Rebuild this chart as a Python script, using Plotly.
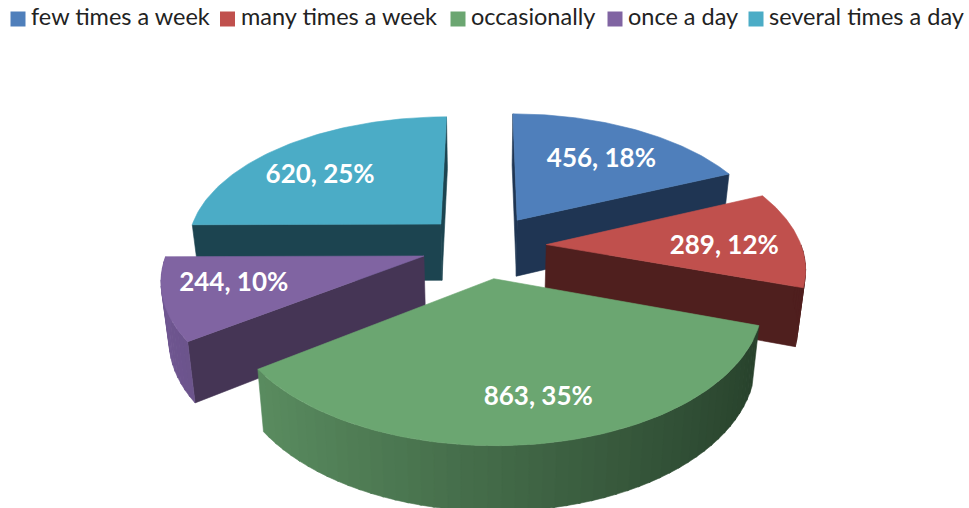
import math
import plotly.graph_objects as go

categories = ["few times a week", "many times a week", "occasionally", "once a day", "several times a day"]
values = [456, 289, 863, 244, 620]
percents = [18, 12, 35, 10, 25]
top_colors = ["#4f7fbb", "#c0504d", "#6ba671", "#8064a2", "#4bacc6"]
wall_colors = ["#1f3553", "#4f1f1e", "#2b4630", "#453555", "#1c4450"]
side_light = ["#3b5f8c", "#8f3b39", "#5f9465", "#705792", "#387f93"]
side_dark = ["#1f3553", "#4f1f1e", "#263f2a", "#3d2f4d", "#1c4450"]

WINDOW_W, WINDOW_H = 969, 508

# Projection constants of the tilted, exploded pie
CX, CY = 484, 246
A, B, K, H, EXPLODE = 255, 130, 0.154, 56, 0.245
BOTTOM_SCALE = 0.975
FONT = "Lato"

# Layout of the labels and the legend row (window pixels)
label_r = [0.60, 0.74, 0.62, 0.72, 0.58]
label_dx = [11, -9, 16, -5, -27]
label_dy = [-3, 7, 24, -2, 0]
legend_square_x = [18, 227.5, 458, 615, 756]
legend_text_x = [31, 241, 471, 628, 769]
LEGEND_SQUARE_Y = 19
LEGEND_TEXT_Y = 19


def project(wx, wy, bottom=False):
    s = 1 / (1 + K * wy)
    x = A * wx * s
    y = -B * wy * s
    if bottom:
        return CX + x * BOTTOM_SCALE, CY + y * BOTTOM_SCALE + H * s * 1.02
    return CX + x, CY + y


def hexmix(a, b, t):
    ca = [int(a[i:i + 2], 16) for i in (1, 3, 5)]
    cb = [int(b[i:i + 2], 16) for i in (1, 3, 5)]
    return "#" + "".join(f"{round(p + (q - p) * t):02x}" for p, q in zip(ca, cb))


total = sum(values)
spans = []
start = 0.0
for v in values:
    end = start + v / total * 2 * math.pi
    spans.append((start, end))
    start = end


def world(idx, r, th):
    a, b = spans[idx]
    mid = (a + b) / 2
    return r * math.sin(th) + EXPLODE * math.sin(mid), r * math.cos(th) + EXPLODE * math.cos(mid)


def quad(fig, pts, color):
    xs, ys = zip(*pts)
    fig.add_trace(go.Scatter(x=list(xs) + [xs[0]], y=list(ys) + [ys[0]], mode="lines", fill="toself",
                             fillcolor=color, line=dict(color=color, width=0.6),
                             hoverinfo="skip", showlegend=False))


fig = go.Figure()
order = [0, 4, 3, 1, 2]
for i in order:
    a, b = spans[i]
    # radial walls, painted when they face the viewer
    for th, sign in ((a, 1), (b, -1)):
        wx, wy = world(i, 1, th)
        ox, oy = world(i, 0, th)
        if sign * math.sin(th) <= 1e-6:
            quad(fig, [project(ox, oy), project(wx, wy), project(wx, wy, True), project(ox, oy, True)], wall_colors[i])
    # outer rim, shaded by its horizontal position
    n = max(8, int((b - a) / math.radians(2.5)))
    for j in range(n):
        t0 = a + (b - a) * j / n
        t1 = a + (b - a) * (j + 1.15) / n
        if math.cos((t0 + t1) / 2) > 0:
            continue
        w0 = world(i, 1, t0)
        w1 = world(i, 1, min(t1, b))
        shade = (math.sin((t0 + t1) / 2) + 1) / 2
        quad(fig, [project(*w0), project(*w1), project(*w1, True), project(*w0, True)],
             hexmix(side_light[i], side_dark[i], shade))

for i in order:
    a, b = spans[i]
    n = 80
    pts = [project(*world(i, 0, a))]
    pts += [project(*world(i, 1, a + (b - a) * j / n)) for j in range(n + 1)]
    quad(fig, pts, top_colors[i])

# Data labels
lx, ly, lt = [], [], []
for i, (v, p) in enumerate(zip(values, percents)):
    a, b = spans[i]
    x, y = project(*world(i, label_r[i], (a + b) / 2))
    lx.append(x + label_dx[i])
    ly.append(y + label_dy[i])
    lt.append(f"{v}, {p}%")
fig.add_trace(go.Scatter(x=lx, y=ly, text=lt, mode="text", textposition="middle center",
                         textfont=dict(family=FONT, size=26, color="white", weight="bold"),
                         hoverinfo="skip", showlegend=False))

# Legend row: one tight line across the top, as in the reference
fig.add_trace(go.Scatter(x=legend_square_x, y=[LEGEND_SQUARE_Y] * len(categories), mode="markers",
                         marker=dict(symbol="square", size=15, color=top_colors, line=dict(width=0)),
                         hoverinfo="skip", showlegend=False))
fig.add_trace(go.Scatter(x=legend_text_x, y=[LEGEND_TEXT_Y] * len(categories), text=categories, mode="text",
                         textposition="middle right",
                         textfont=dict(family=FONT, size=23.5, color="#222222"),
                         hoverinfo="skip", showlegend=False))

fig.update_layout(
    width=WINDOW_W, height=WINDOW_H, margin=dict(l=0, r=0, t=0, b=0),
    paper_bgcolor="white", plot_bgcolor="white",
    xaxis=dict(range=[0, WINDOW_W], visible=False, fixedrange=True),
    yaxis=dict(range=[WINDOW_H, 0], visible=False, fixedrange=True),
    showlegend=False,
)
# Drop the page's default body margin so the axes run in window pixels
fig.write_html("out.html", config={"displayModeBar": False},
               post_script="document.body.style.margin='0';document.body.style.overflow='hidden';")
